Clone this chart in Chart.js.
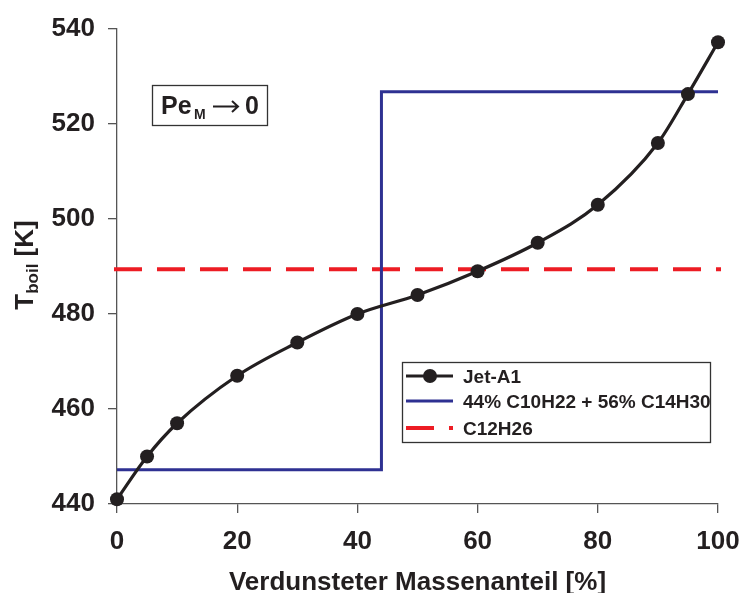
<!DOCTYPE html>
<html>
<head>
<meta charset="utf-8">
<script src="https://cdn.jsdelivr.net/npm/chart.js@4.4.1/dist/chart.umd.min.js"></script>
<style>
  html, body { margin: 0; padding: 0; background: #fff; }
  #wrap { width: 739px; height: 593px; }
</style>
</head>
<body>
<div id="wrap"><canvas id="c" width="739" height="593"></canvas></div>
<script>
// values
const jetX = [0, 5, 10, 20, 30, 40, 50, 60, 70, 80, 90, 95, 100];
const jetY = [441, 450, 457, 467, 474, 480, 484, 489, 495, 503, 516, 526.3, 537.2];

const mixX = [0, 44, 100];
const mixY = [447.2, 526.8, 526.8];

// the dashed line runs a touch past both axis ends in the figure
const dodX = [-0.5, 100.5];
const dodY = [489.4, 489.4];

const xTicks = [0, 20, 40, 60, 80, 100];
const yTicks = [440, 460, 480, 500, 520, 540];

const FONT = "'Liberation Sans', Arial, sans-serif";
const INK = "#231f20";
const AXIS = "#555555";

const pts = (xs, ys) => xs.map((x, i) => ({ x: x, y: ys[i] }));

// axis titles, the Pe box and the legend box are drawn by hand
const decorations = {
  id: "decorations",
  afterDraw(chart) {
    const ctx = chart.ctx;
    const area = chart.chartArea;
    ctx.save();
    ctx.fillStyle = INK;
    ctx.textBaseline = "alphabetic";

    // x title
    ctx.font = "bold 26px " + FONT;
    ctx.textAlign = "center";
    ctx.fillText("Verdunsteter Massenanteil [%]", (area.left + area.right) / 2, 590);

    // y title with subscript
    ctx.save();
    ctx.translate(33, 265);
    ctx.rotate(-Math.PI / 2);
    const t1 = "T", t2 = "boil", t3 = " [K]";
    ctx.font = "bold 26px " + FONT;
    const w1 = ctx.measureText(t1).width, w3 = ctx.measureText(t3).width;
    ctx.font = "bold 17px " + FONT;
    const w2 = ctx.measureText(t2).width;
    let x0 = -(w1 + w2 + w3) / 2;
    ctx.textAlign = "left";
    ctx.font = "bold 26px " + FONT;
    ctx.fillText(t1, x0, 0);
    ctx.font = "bold 17px " + FONT;
    ctx.fillText(t2, x0 + w1, 5);
    ctx.font = "bold 26px " + FONT;
    ctx.fillText(t3, x0 + w1 + w2, 0);
    ctx.restore();

    // Pe_M -> 0 box
    ctx.fillStyle = "#fff";
    ctx.fillRect(152, 85, 115, 40);
    ctx.strokeStyle = "#333";
    ctx.lineWidth = 1.3;
    ctx.strokeRect(152.5, 85.5, 115, 40);
    ctx.fillStyle = INK;
    ctx.textAlign = "left";
    ctx.font = "bold 25px " + FONT;
    ctx.fillText("Pe", 161, 114);
    ctx.font = "bold 14px " + FONT;
    ctx.fillText("M", 194, 119);
    ctx.strokeStyle = INK;
    ctx.lineWidth = 2;
    ctx.beginPath();
    ctx.moveTo(213, 106.5);
    ctx.lineTo(238, 106.5);
    ctx.moveTo(232, 101);
    ctx.lineTo(238, 106.5);
    ctx.lineTo(232, 112);
    ctx.stroke();
    ctx.font = "bold 25px " + FONT;
    ctx.fillText("0", 245, 114);

    // legend
    ctx.fillStyle = "#fff";
    ctx.fillRect(402, 362, 308, 80);
    ctx.strokeStyle = "#333";
    ctx.lineWidth = 1.3;
    ctx.strokeRect(402.5, 362.5, 308, 80);
    const rows = [376, 401, 428];
    chart.data.datasets.forEach((ds, i) => {
      const y = rows[i];
      ctx.strokeStyle = ds.borderColor;
      ctx.lineWidth = ds.borderWidth;
      ctx.setLineDash(ds.borderDash || []);
      ctx.beginPath();
      ctx.moveTo(406, y);
      ctx.lineTo(453, y);
      ctx.stroke();
      ctx.setLineDash([]);
      if (ds.pointRadius) {
        ctx.fillStyle = ds.pointBackgroundColor;
        ctx.beginPath();
        ctx.arc(430, y, ds.pointRadius, 0, Math.PI * 2);
        ctx.fill();
      }
      ctx.fillStyle = INK;
      ctx.font = "bold 19px " + FONT;
      ctx.fillText(ds.label, 463, y + 7);
    });
    ctx.restore();
  }
};

new Chart(document.getElementById("c"), {
  type: "line",
  data: {
    datasets: [
      {
        label: "Jet-A1",
        data: pts(jetX, jetY),
        borderColor: INK,
        borderWidth: 3.2,
        pointRadius: 7,
        pointBackgroundColor: INK,
        pointBorderWidth: 0,
        cubicInterpolationMode: "monotone",
        clip: false,
        order: 0
      },
      {
        label: "44% C10H22 + 56% C14H30",
        data: pts(mixX, mixY),
        borderColor: "#2e3192",
        borderWidth: 3,
        pointRadius: 0,
        stepped: "before",
        clip: false,
        order: 1
      },
      {
        label: "C12H26",
        data: pts(dodX, dodY),
        borderColor: "#ed1c24",
        borderWidth: 4,
        borderDash: [28, 15],
        pointRadius: 0,
        clip: false,
        order: 2
      }
    ]
  },
  options: {
    responsive: false,
    animation: false,
    events: [],
    layout: { padding: { top: 29, right: 21, left: 0, bottom: 0 } },
    plugins: { legend: { display: false }, tooltip: { enabled: false }, title: { display: false } },
    scales: {
      x: {
        type: "linear",
        min: 0,
        max: 100,
        afterFit(s) { s.height = 89; s.paddingLeft = 0; s.paddingRight = 0; },
        afterBuildTicks(s) { s.ticks = xTicks.map(v => ({ value: v })); },
        grid: { drawOnChartArea: false, drawTicks: true, tickLength: 9, color: AXIS, lineWidth: 1.3 },
        border: { display: true, color: AXIS, width: 1.3 },
        ticks: { color: INK, padding: 13, maxRotation: 0, font: { family: FONT, size: 26, weight: "bold" } }
      },
      y: {
        type: "linear",
        min: 440,
        max: 540,
        afterFit(s) { s.width = 117; s.paddingTop = 0; s.paddingBottom = 0; },
        afterBuildTicks(s) { s.ticks = yTicks.map(v => ({ value: v })); },
        grid: { drawOnChartArea: false, drawTicks: true, tickLength: 9, color: AXIS, lineWidth: 1.3 },
        border: { display: true, color: AXIS, width: 1.3 },
        ticks: { color: INK, padding: 13, font: { family: FONT, size: 26, weight: "bold" } }
      }
    }
  },
  plugins: [decorations]
});
</script>
</body>
</html>
